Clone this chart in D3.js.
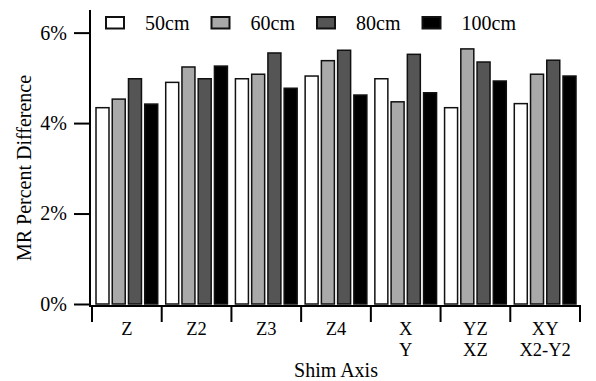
<!DOCTYPE html>
<html>
<head>
  <meta charset="utf-8">
  <title>MR Percent Difference by Shim Axis</title>
  <script src="https://d3js.org/d3.v7.min.js"></script>
  <style>
    body { margin: 0; background: #fff; }
    text { font-family: "Liberation Serif", "Times New Roman", serif; fill: #000; }
  </style>
</head>
<body>
<div id="chart"></div>
<script>

  // shim axis categories (second line of label after the |)
  var categories = ["Z", "Z2", "Z3", "Z4", "X|Y", "YZ|XZ", "XY|X2-Y2"];
  var series = ["50cm", "60cm", "80cm", "100cm"];

  // MR percent difference, one array per distance
  var values50  = [4.34, 4.90, 4.98, 5.04, 4.98, 4.34, 4.43];
  var values60  = [4.53, 5.24, 5.08, 5.38, 4.47, 5.64, 5.08];
  var values80  = [4.98, 4.98, 5.55, 5.61, 5.52, 5.35, 5.39];
  var values100 = [4.42, 5.26, 4.77, 4.62, 4.67, 4.93, 5.04];

  var yTicks = [0, 2, 4, 6];

  var allValues = [values50, values60, values80, values100];
  var colors = ["#ffffff", "#a9a9a9", "#555555", "#000000"];

  var width = 596, height = 381;
  var fs = "20px";

  var svg = d3.select("#chart").append("svg")
          .attr("width", width).attr("height", height);

  var x = d3.scaleBand().domain(categories).range([92, 580]);
  var x1 = d3.scaleBand().domain(series).range([4, x.bandwidth() - 4]).paddingInner(0.2);
  var y = d3.scaleLinear().domain([0, 6.5]).range([304, 10]);

  //bars
  var groups = svg.selectAll(".grp")
          .data(categories)
          .enter().append("g")
          .attr("class", "grp")
          .attr("transform", function(d) { return "translate(" + x(d) + ",0)"; });

  groups.selectAll("rect")
          .data(function(d, i) { return series.map(function(s, j) { return {s: s, j: j, v: allValues[j][i]}; }); })
          .enter().append("rect")
          .attr("x", function(d) { return x1(d.s); })
          .attr("width", x1.bandwidth())
          .attr("y", function(d) { return y(d.v); })
          .attr("height", function(d) { return y(0) - y(d.v); })
          .attr("fill", function(d) { return colors[d.j]; })
          .attr("stroke", "#111")
          .attr("stroke-width", 1.5);

  //y axis
  var yAxis = d3.axisLeft(y).tickValues(yTicks).tickSize(16).tickPadding(7)
          .tickFormat(function(d) { return d + "%"; });
  var gy = svg.append("g").attr("transform", "translate(90,0)").call(yAxis);
  gy.select(".domain").remove();
  gy.selectAll(".tick line").attr("stroke", "#000").attr("stroke-width", 2);
  gy.selectAll(".tick text").style("font-size", fs).style("font-family", "Liberation Serif");
  svg.append("line").attr("x1", 90).attr("x2", 90).attr("y1", y.range()[1]).attr("y2", 306)
          .attr("stroke", "#000").attr("stroke-width", 2);

  //x axis
  svg.append("line").attr("x1", 89).attr("x2", x.range()[1] + 1).attr("y1", 306).attr("y2", 306)
          .attr("stroke", "#000").attr("stroke-width", 2);
  var bounds = categories.map(function(c) { return x(c); }).concat([x.range()[1]]);
  svg.selectAll(".xtick")
          .data(bounds)
          .enter().append("line")
          .attr("class", "xtick")
          .attr("x1", function(d) { return d; }).attr("x2", function(d) { return d; })
          .attr("y1", 306).attr("y2", 322)
          .attr("stroke", "#000").attr("stroke-width", 2);

  //category labels, one text per line
  var labelLines = [];
  categories.forEach(function(c) {
    c.split("|").forEach(function(l, k) { labelLines.push({cat: c, line: l, k: k}); });
  });
  svg.selectAll(".xlab")
          .data(labelLines)
          .enter().append("text")
          .attr("class", "xlab")
          .attr("x", function(d) { return x(d.cat) + x.bandwidth() / 2; })
          .attr("y", function(d) { return 335 + d.k * 21; })
          .attr("text-anchor", "middle")
          .style("font-size", "18.5px")
          .text(function(d) { return d.line; });

  //axis titles
  svg.append("text")
          .attr("x", 336).attr("y", 377)
          .attr("text-anchor", "middle")
          .style("font-size", fs)
          .text("Shim Axis");

  svg.append("text")
          .attr("transform", "translate(31,168)rotate(-90)")
          .attr("text-anchor", "middle")
          .style("font-size", fs)
          .text("MR Percent Difference");

  //legend
  var legend = svg.selectAll(".leg")
          .data(series)
          .enter().append("g")
          .attr("class", "leg")
          .attr("transform", function(d, i) { return "translate(" + (106 + i * 105.5) + ",17)"; });
  legend.append("rect")
          .attr("width", 18).attr("height", 11.5)
          .attr("fill", function(d, i) { return colors[i]; })
          .attr("stroke", "#111").attr("stroke-width", 2);
  legend.append("text")
          .attr("x", 39).attr("y", 12.5)
          .style("font-size", fs)
          .text(function(d) { return d; });

</script>
</body>
</html>
